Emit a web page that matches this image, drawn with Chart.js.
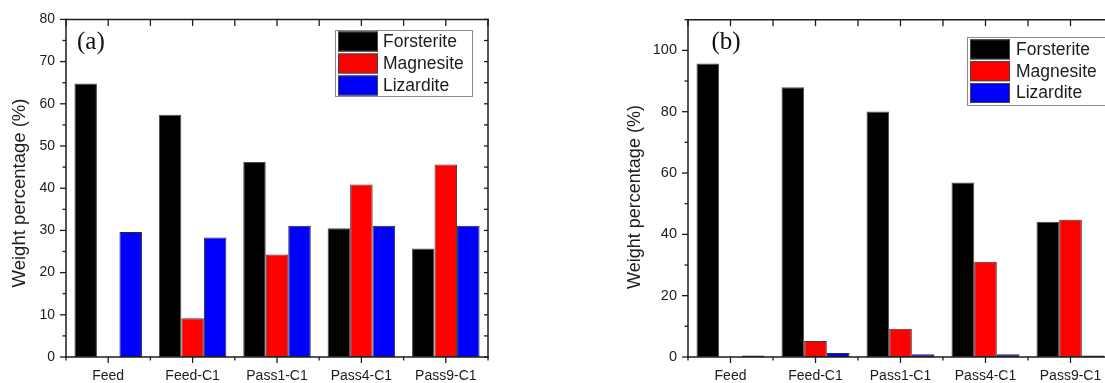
<!DOCTYPE html>
<html>
<head>
<meta charset="utf-8">
<script src="https://cdn.jsdelivr.net/npm/chart.js@4.4.1/dist/chart.umd.min.js"></script>
<style>
  html, body { margin: 0; padding: 0; background: #fff; overflow: hidden; width: 1105px; height: 383px; }
  #wrap { position: relative; width: 1105px; height: 383px; overflow: hidden; background: #fff; }
  #panelA { position: absolute; left: 0; top: 0; }
  #panelB { position: absolute; left: 560px; top: 0; }
</style>
</head>
<body>
<div id="wrap">
  <canvas id="panelA" width="560" height="383"></canvas>
  <canvas id="panelB" width="553" height="383"></canvas>
</div>
<script>
// Sample stages along the x axis
const categories = ['Feed', 'Feed-C1', 'Pass1-C1', 'Pass4-C1', 'Pass9-C1'];
const seriesNames = ['Forsterite', 'Magnesite', 'Lizardite'];

// Panel (a): weight percentage of each mineral phase
const forsteriteA = [64.8, 57.4, 46.2, 30.5, 25.7];
const magnesiteA  = [0, 9.2, 24.3, 40.9, 45.6];
const lizarditeA  = [29.6, 28.3, 31.1, 31.1, 31.1];

// Panel (b): weight percentage of each mineral phase
const forsteriteB = [95.7, 88.0, 80.1, 56.9, 44.1];
const magnesiteB  = [0, 5.2, 9.2, 31.1, 44.8];
const lizarditeB  = [0.5, 1.3, 0.9, 0.9, 0.5];

// Tick labels on the value axes
const yTicksA = [0, 10, 20, 30, 40, 50, 60, 70, 80];
const yTicksB = [0, 20, 40, 60, 80, 100];

const SANS = '"Liberation Sans", Arial, Helvetica, sans-serif';
const SERIF = '"Liberation Serif", "Times New Roman", serif';
const INK = '#1c1c1c';

// Frame with outward ticks on the left/bottom and inward ticks on the top (and right, when shown)
const framePlugin = {
  id: 'frame',
  afterDraw(chart, args, o) {
    const { ctx, chartArea: a, scales } = chart;
    const x = scales.x, y = scales.y;
    const seg = (x1, y1, x2, y2) => { ctx.beginPath(); ctx.moveTo(x1, y1); ctx.lineTo(x2, y2); ctx.stroke(); };
    ctx.save();
    ctx.strokeStyle = INK;
    ctx.lineWidth = 1.5;
    ctx.lineCap = 'square';
    seg(a.left, a.top, a.right, a.top);
    seg(a.left, a.bottom, a.right, a.bottom);
    seg(a.left, a.top, a.left, a.bottom);
    if (o.rightSide) seg(a.right, a.top, a.right, a.bottom);
    ctx.lineCap = 'butt';
    ctx.lineWidth = 1.3;
    const minor = o.major / 2;
    for (let v = y.min; v <= y.max + 1e-9; v += minor) {
      const py = y.getPixelForValue(v);
      const isMajor = Math.abs(v / o.major - Math.round(v / o.major)) < 1e-6;
      seg(a.left - (isMajor ? 6 : 3.5), py, a.left, py);
      if (o.rightSide) seg(a.right, py, a.right - 4, py);
    }
    const n = chart.data.labels.length;
    const w = x.getPixelForValue(1) - x.getPixelForValue(0);
    for (let i = 0; i < n; i++) {
      const cx = x.getPixelForValue(i);
      seg(cx, a.bottom, cx, a.bottom + 6);
      seg(cx, a.top, cx, a.top + 6.5);
    }
    for (let i = 0; i <= n; i++) {
      const bx = x.getPixelForValue(0) - w / 2 + i * w;
      seg(bx, a.bottom, bx, a.bottom + 3.5);
      seg(bx, a.top, bx, a.top + 6.5);
    }
    ctx.restore();
  }
};

// Boxed legend placed inside the plot area
const boxLegendPlugin = {
  id: 'boxLegend',
  afterDraw(chart, args, o) {
    const { ctx, chartArea: a } = chart;
    const x0 = Math.round(a.left + o.dx), y0 = Math.round(a.top + o.dy);
    ctx.save();
    ctx.fillStyle = '#fff';
    ctx.fillRect(x0, y0, o.w, o.h);
    ctx.strokeStyle = '#8a8a8a';
    ctx.lineWidth = 1;
    ctx.strokeRect(x0 + 0.5, y0 + 0.5, o.w, o.h);
    chart.data.datasets.forEach((d, i) => {
      const ry = y0 + o.rowTop + i * o.pitch;
      ctx.fillStyle = d.backgroundColor;
      ctx.fillRect(x0 + 3, ry, 40, 20);
      ctx.strokeStyle = '#444';
      ctx.strokeRect(x0 + 3.5, ry + 0.5, 39, 19);
      ctx.fillStyle = INK;
      ctx.font = o.fontSize + 'px ' + SANS;
      ctx.textBaseline = 'middle';
      ctx.textAlign = 'left';
      ctx.fillText(d.label, x0 + o.textDx, ry + 10.5);
    });
    ctx.restore();
  }
};

// Rotated value-axis title and the panel tag
const panelTextPlugin = {
  id: 'panelText',
  afterDraw(chart, args, o) {
    const { ctx, chartArea: a } = chart;
    ctx.save();
    ctx.fillStyle = INK;
    ctx.font = o.titleSize + 'px ' + SANS;
    ctx.translate(o.titleX, o.titleY);
    ctx.rotate(-Math.PI / 2);
    ctx.textAlign = 'center';
    ctx.textBaseline = 'middle';
    ctx.fillText(o.title, 0, 0);
    ctx.restore();
    ctx.save();
    ctx.fillStyle = '#111';
    ctx.font = o.tagSize + 'px ' + SERIF;
    ctx.textAlign = 'left';
    ctx.textBaseline = 'alphabetic';
    ctx.fillText(o.tag, a.left + o.tagDx, o.tagY);
    ctx.restore();
  }
};

function buildDatasets(f, m, l) {
  const colors = ['#000000', '#ff0000', '#0000ff'];
  const borders = ['#4a4a4a', '#3a3a3a', '#2a2a2a'];
  return [f, m, l].map((vals, i) => ({
    label: seriesNames[i],
    data: vals,
    backgroundColor: colors[i],
    borderColor: borders[i],
    borderWidth: 1,
    borderSkipped: false,
    barPercentage: 1,
    categoryPercentage: 0.8
  }));
}

function makePanel(canvasId, cfg) {
  return new Chart(document.getElementById(canvasId), {
    type: 'bar',
    data: { labels: categories, datasets: buildDatasets(cfg.f, cfg.m, cfg.l) },
    options: {
      responsive: false,
      animation: false,
      events: [],
      layout: { padding: { top: 16, right: cfg.padRight, bottom: 0, left: 0 } },
      scales: {
        x: {
          grid: { display: false, drawTicks: false },
          border: { display: false },
          afterFit(s) { s.height = 26; },
          ticks: { padding: 11, color: INK, font: { family: SANS, size: 14 }, maxRotation: 0, autoSkip: false }
        },
        y: {
          min: 0,
          max: cfg.max,
          grid: { display: false, drawTicks: false },
          border: { display: false },
          afterFit(s) { s.width = cfg.axisWidth; },
          afterBuildTicks(s) { s.ticks = cfg.ticks.map(v => ({ value: v })); },
          ticks: { padding: 11, color: INK, font: { family: SANS, size: cfg.tickSize } }
        }
      },
      plugins: {
        legend: { display: false },
        tooltip: { enabled: false },
        frame: { major: cfg.major, rightSide: cfg.rightSide },
        boxLegend: cfg.legend,
        panelText: cfg.text
      }
    },
    plugins: [framePlugin, boxLegendPlugin, panelTextPlugin]
  });
}

makePanel('panelA', {
  f: forsteriteA, m: magnesiteA, l: lizarditeA,
  max: 80, major: 10, ticks: yTicksA, tickSize: 14,
  axisWidth: 66, padRight: 72, rightSide: true,
  legend: { dx: 269, dy: 11, w: 137, h: 66, rowTop: 1.5, pitch: 22, textDx: 48, fontSize: 17.5 },
  text: { title: 'Weight percentage (%)', titleX: 20, titleY: 193, titleSize: 18.5, tag: '(a)', tagDx: 11, tagY: 48.5, tagSize: 25 }
});

// Panel (b) runs past the right edge of the page; its right-hand axis falls outside
makePanel('panelB', {
  f: forsteriteB, m: magnesiteB, l: lizarditeB,
  max: 110, major: 20, ticks: yTicksB, tickSize: 14.5,
  axisWidth: 128, padRight: 0, rightSide: false,
  legend: { dx: 279, dy: 17, w: 150, h: 68, rowTop: 2.4, pitch: 21.8, textDx: 49, fontSize: 17.5 },
  text: { title: 'Weight percentage (%)', titleX: 75.5, titleY: 197, titleSize: 18, tag: '(b)', tagDx: 23.5, tagY: 48.5, tagSize: 25 }
});
</script>
</body>
</html>
